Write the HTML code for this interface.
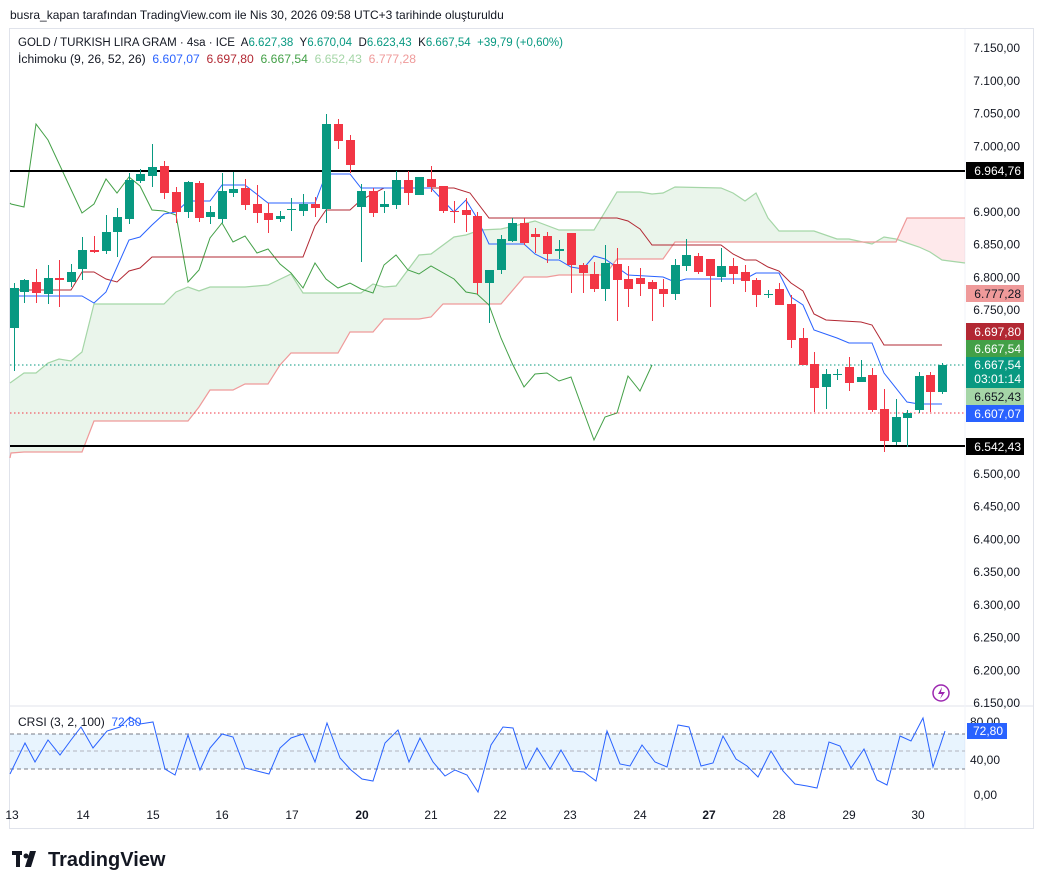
<!DOCTYPE html>
<html><head><meta charset="utf-8"><style>
body{margin:0;background:#fff;width:1041px;height:889px;overflow:hidden;font-family:"Liberation Sans",sans-serif;}
svg text{font-family:"Liberation Sans",sans-serif;}
</style></head><body>
<svg id="s" width="1041" height="889" xmlns="http://www.w3.org/2000/svg">
<rect x="0" y="0" width="1041" height="889" fill="#fff"/>
<text x="10" y="19" font-size="12" fill="#131722">busra_kapan tarafından TradingView.com ile Nis 30, 2026 09:58 UTC+3 tarihinde oluşturuldu</text>
<rect x="9.5" y="28.5" width="1024" height="800" fill="none" stroke="#e0e3eb"/>
<line x1="10" y1="706" x2="1033" y2="706" stroke="#e0e3eb"/>
<line x1="965" y1="29" x2="965" y2="828" stroke="#f0f3fa"/>
<g id="cloud"></g>
<g id="lines"></g>
<line x1="10" y1="171" x2="965" y2="171" stroke="#000" stroke-width="2"/>
<line x1="10" y1="446" x2="965" y2="446" stroke="#000" stroke-width="2"/>
<line x1="10" y1="365" x2="965" y2="365" stroke="#089981" stroke-dasharray="1.5,2.5"/>
<line x1="10" y1="413" x2="965" y2="413" stroke="#F23645" stroke-dasharray="1.5,2.5"/>
<g id="candles"></g>
<g id="axis" font-size="12" fill="#131722" text-anchor="end"></g>
<text x="18" y="46" font-size="11.5" fill="#131722" textLength="545" lengthAdjust="spacingAndGlyphs">GOLD / TURKISH LIRA GRAM · 4sa · ICE&#160; A<tspan fill="#089981">6.627,38</tspan>&#160; Y<tspan fill="#089981">6.670,04</tspan>&#160; D<tspan fill="#089981">6.623,43</tspan>&#160; K<tspan fill="#089981">6.667,54</tspan>&#160; <tspan fill="#089981">+39,79 (+0,60%)</tspan></text>
<text x="18" y="63" font-size="11.5" fill="#131722" textLength="398" lengthAdjust="spacingAndGlyphs">İchimoku (9, 26, 52, 26)&#160; <tspan fill="#2962ff">6.607,07</tspan>&#160; <tspan fill="#b22833">6.697,80</tspan>&#160; <tspan fill="#43a047">6.667,54</tspan>&#160; <tspan fill="#a5d6a7">6.652,43</tspan>&#160; <tspan fill="#ef9a9a">6.777,28</tspan></text>
<g font-size="12" text-anchor="end">
<rect x="966" y="162" width="58" height="17" fill="#000"/><text x="1021" y="175" fill="#fff">6.964,76</text>
<rect x="966" y="285" width="58" height="17" fill="#ef9a9a"/><text x="1021" y="298" fill="#131722">6.777,28</text>
<rect x="966" y="323" width="58" height="17" fill="#b22833"/><text x="1021" y="336" fill="#fff">6.697,80</text>
<rect x="966" y="340" width="58" height="17" fill="#43a047"/><text x="1021" y="353" fill="#fff">6.667,54</text>
<rect x="966" y="357" width="58" height="31" fill="#089981"/><text x="1021" y="369" fill="#fff">6.667,54</text><text x="1021" y="383" fill="#fff">03:01:14</text>
<rect x="966" y="388" width="58" height="17" fill="#a5d6a7"/><text x="1021" y="401" fill="#131722">6.652,43</text>
<rect x="966" y="405" width="58" height="17" fill="#2962ff"/><text x="1021" y="418" fill="#fff">6.607,07</text>
<rect x="966" y="438" width="58" height="17" fill="#000"/><text x="1021" y="451" fill="#fff">6.542,43</text>
</g>
<circle cx="941" cy="693" r="8" fill="none" stroke="#9c27b0" stroke-width="1.5"/>
<path d="M942 687 L938 694 L942 694 L940 699 L945 692 L941 692 Z" fill="#9c27b0"/>
<rect x="10" y="734" width="955" height="35" fill="#2196f3" fill-opacity="0.1"/>
<line x1="10" y1="734" x2="965" y2="734" stroke="#787b86" stroke-dasharray="4,3"/>
<line x1="10" y1="751" x2="965" y2="751" stroke="#b2b5be" stroke-dasharray="4,3"/>
<line x1="10" y1="769" x2="965" y2="769" stroke="#787b86" stroke-dasharray="4,3"/>
<polyline fill="none" stroke="#2962ff" stroke-width="1" points="10,774 25,743 35,762 48,740 60,755 71,740 81,727 93,748 107,731 120,727 130,717 140,724 153,722 165,769 175,775 188,735 200,770 210,748 222,734 233,737 245,768 257,771 269,774 280,748 291,738 303,734 315,762 327,723 340,758 351,770 362,779 373,781 385,743 398,730 409,762 420,738 433,762 445,776 455,770 467,775 478,792 491,745 503,727 513,728 526,769 537,748 550,769 561,750 573,771 584,772 596,781 607,731 620,764 630,766 642,745 655,762 667,767 678,725 689,727 701,766 713,763 723,736 736,759 747,766 758,777 771,751 783,771 795,784 807,786 817,788 829,742 840,746 851,768 864,749 877,780 887,785 900,736 911,741 923,718 933,767 945,731"/>
<text x="18" y="726" font-size="12" fill="#131722">CRSI (3, 2, 100)&#160; <tspan fill="#2962ff">72,80</tspan></text>
<g font-size="12" fill="#131722" text-anchor="end"><text x="1000" y="726">80,00</text><text x="1000" y="764">40,00</text><text x="997" y="799">0,00</text></g>
<rect x="967" y="723" width="40" height="16" fill="#2962ff"/><text x="1003" y="735" font-size="12" fill="#fff" text-anchor="end">72,80</text>
<g font-size="12" fill="#131722" text-anchor="middle">
<text x="12" y="819">13</text><text x="83" y="819">14</text><text x="153" y="819">15</text><text x="222" y="819">16</text><text x="292" y="819">17</text><text x="362" y="819" font-weight="bold">20</text><text x="431" y="819">21</text><text x="500" y="819">22</text><text x="570" y="819">23</text><text x="640" y="819">24</text><text x="709" y="819" font-weight="bold">27</text><text x="779" y="819">28</text><text x="849" y="819">29</text><text x="918" y="819">30</text>
</g>
<g fill="#131722"><rect x="12" y="851" width="10" height="4"/><rect x="16" y="851" width="4" height="16"/><circle cx="26" cy="856" r="2.5"/><path d="M30 851 L36 851 L31 867 L25 867 Z"/></g>
<text x="48" y="866" font-size="20" font-weight="bold" fill="#131722">TradingView</text>
</svg>
<script>
var NS="http://www.w3.org/2000/svg";
function el(t,a,p){var e=document.createElementNS(NS,t);for(var k in a)e.setAttribute(k,a[k]);document.getElementById(p).appendChild(e);return e;}
var C=[[14,288,328,283,371,1],[24,280,292,279,303,1],[36,282,293,269,303,0],[48,278,294,265,304,1],[59,278,280,260,307,0],[71,272,282,264,287,1],[82,250,269,237,280,1],[94,250,252,236,253,0],[106,232,251,215,254,1],[117,217,232,208,257,1],[129,180,219,173,224,1],[140,174,181,169,183,1],[152,167,176,144,187,1],[164,166,193,161,199,0],[176,192,212,187,223,0],[188,182,212,181,218,1],[199,183,218,181,222,0],[210,212,217,206,224,1],[222,191,219,173,223,1],[233,189,193,172,197,1],[245,188,205,179,210,0],[257,204,213,185,223,0],[268,213,220,203,233,0],[280,216,219,211,222,1],[291,209,210,198,231,1],[303,204,211,194,216,1],[315,204,208,197,217,0],[326,124,209,114,223,1],[338,124,141,119,149,0],[350,140,165,135,173,0],[361,191,207,184,262,1],[373,191,213,188,217,0],[384,204,207,191,213,1],[396,180,205,171,209,1],[408,180,193,171,205,0],[419,177,195,177,195,1],[431,179,187,166,192,0],[443,186,211,186,213,0],[454,211,212,201,223,0],[466,210,215,198,232,0],[477,216,283,212,294,0],[489,270,283,270,323,1],[501,239,270,235,274,1],[512,223,241,218,242,1],[524,223,243,218,245,0],[535,234,237,228,253,0],[547,236,254,232,263,0],[559,249,251,240,259,1],[571,233,265,233,293,0],[583,265,273,263,293,0],[594,274,289,262,292,0],[605,263,289,245,301,1],[617,264,280,248,321,0],[628,279,289,266,307,0],[640,278,284,268,296,0],[652,282,289,280,321,0],[663,289,294,279,307,0],[675,265,294,259,300,1],[686,255,266,239,271,1],[698,256,272,253,274,0],[710,259,276,259,307,0],[721,266,277,248,282,1],[733,266,274,258,284,0],[745,272,281,265,292,0],[756,280,295,278,307,0],[768,294,295,290,298,1],[779,289,305,283,305,0],[791,304,340,295,348,0],[803,338,365,328,365,0],[814,364,388,352,412,0],[826,374,387,369,409,1],[837,374,375,369,380,1],[849,367,383,357,391,0],[861,377,382,360,382,1],[872,375,410,368,412,0],[884,409,441,389,452,0],[896,417,442,399,445,1],[907,413,418,410,447,1],[919,376,410,372,413,1],[930,375,392,372,412,0],[942,365,392,363,394,1]];
C.forEach(function(c){var col=c[5]?"#089981":"#F23645";el("line",{x1:c[0]+.5,x2:c[0]+.5,y1:c[3],y2:c[4],stroke:col},"candles");el("rect",{x:c[0]-4,y:c[1],width:9,height:Math.max(1,c[2]-c[1]),fill:col},"candles");});
var A="10,383 24,373 36,373 48,363 59,359 71,361 82,352 94,304 164,304 176,292 188,287 199,291 210,287 245,287 268,285 291,274 303,293 361,293 373,284 384,287 396,286 419,255 431,254 454,237 466,235 480,230 501,229 535,221 559,230 594,230 617,192 640,192 652,194 663,193 675,187 721,188 733,193 745,201 756,193 768,218 779,231 814,231 837,239 849,239 872,244 884,237 896,239 907,243 919,247 930,252 942,260 965,263";
var B="10,458 11,453 24,452 82,452 94,421 188,421 199,407 210,390 233,390 245,384 268,384 280,365 291,353 338,353 350,332 373,332 384,319 419,319 431,317 443,304 501,304 524,277 547,277 559,275 605,275 617,259 663,259 675,242 896,242 907,218 965,218";
var Br=B.split(" ").reverse().join(" ");
var defs=el("defs",{},"cloud");
var cp1=document.createElementNS(NS,"clipPath");cp1.setAttribute("id","cg");defs.appendChild(cp1);
var r1=document.createElementNS(NS,"rect");r1.setAttribute("x",0);r1.setAttribute("y",0);r1.setAttribute("width",898);r1.setAttribute("height",700);cp1.appendChild(r1);
var cp2=document.createElementNS(NS,"clipPath");cp2.setAttribute("id","cr");defs.appendChild(cp2);
var r2=document.createElementNS(NS,"rect");r2.setAttribute("x",898);r2.setAttribute("y",0);r2.setAttribute("width",100);r2.setAttribute("height",700);cp2.appendChild(r2);
el("polygon",{points:A+" "+Br,fill:"#43a047","fill-opacity":"0.11","clip-path":"url(#cg)"},"cloud");
el("polygon",{points:A+" "+Br,fill:"#f23645","fill-opacity":"0.11","clip-path":"url(#cr)"},"cloud");
el("polyline",{points:A,fill:"none",stroke:"#a5d6a7","stroke-width":1.2},"lines");
el("polyline",{points:B,fill:"none",stroke:"#ef9a9a","stroke-width":1.2},"lines");
el("polyline",{points:"10,203 11,204 24,207 36,124 48,140 82,213 94,204 106,179 117,193 129,177 140,186 152,210 164,211 176,215 188,282 199,270 210,238 222,223 233,242 245,236 257,253 268,249 280,264 291,273 303,288 315,263 326,279 338,288 350,283 361,289 373,293 384,265 396,255 408,270 419,274 431,266 454,279 466,292 477,294 489,305 501,338 512,363 524,387 535,374 547,373 559,381 571,377 583,410 594,440 605,417 617,413 628,376 640,391 652,365",fill:"none",stroke:"#43a047","stroke-width":1},"lines");
el("polyline",{points:"14,290 71,290 82,272 94,272 106,279 117,282 129,271 140,268 152,257 303,257 315,226 326,210 350,210 361,200 384,188 454,188 470,193 489,218 617,218 628,221 640,229 652,245 721,245 733,254 745,260 756,260 768,267 779,271 791,283 803,291 814,314 826,320 861,322 872,325 884,345 942,345",fill:"none",stroke:"#b22833","stroke-width":1},"lines");
el("polyline",{points:"14,296 82,296 94,303 106,292 129,240 140,237 152,225 164,214 176,212 188,201 210,201 222,185 245,185 268,203 315,203 326,174 350,174 361,188 431,188 454,212 466,200 477,218 489,244 524,244 535,254 547,260 559,260 571,267 583,269 594,256 605,259 628,275 663,277 675,282 686,279 745,279 756,273 779,273 791,297 803,305 814,330 837,338 849,343 872,343 884,373 907,402 919,404 942,404",fill:"none",stroke:"#2962ff","stroke-width":1},"lines");
var hidden={6950:1,6550:1};
for(var p=7150;p>=6150;p-=50){if(hidden[p])continue;var y=48+(7150-p)*0.655;var s=(p/1000|0)+"."+String(p%1000).padStart(3,"0")+",00";var t=el("text",{x:1020,y:y+4},"axis");t.textContent=s;}
</script>
</body></html>
